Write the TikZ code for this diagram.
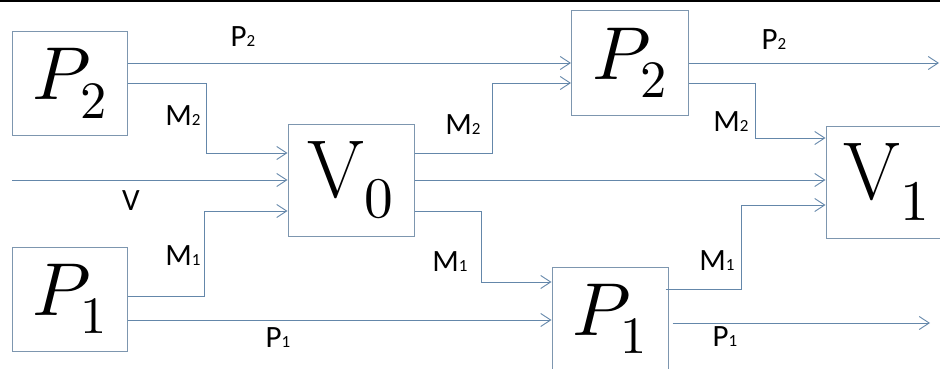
\documentclass[tikz,border=0pt]{standalone}
\usepackage{fontspec}
\usepackage{unicode-math}
\setsansfont{Carlito}
\usetikzlibrary{arrows.meta}
\definecolor{wire}{RGB}{100,135,170}
\definecolor{frame}{RGB}{125,150,175}
\newcommand{\subnum}[1]{{\fontsize{17}{17}\selectfont #1}}

\begin{document}
\begin{tikzpicture}[x=1pt, y=-1pt, >={Straight Barb[length=10pt,width=13pt]},
  blk/.style={draw=frame, line width=1pt, fill=white, inner sep=0pt},
  pbox/.style={blk, font=\fontsize{75}{75}\selectfont},
  vbox/.style={blk, font=\fontsize{82}{82}\selectfont},
  flow/.style={->, draw=wire, line width=0.9pt},
  lbl/.style={font=\sffamily\fontsize{31}{31}\selectfont, inner sep=0pt}]
  \useasboundingbox (0,0) rectangle (940,369);
  \clip (0,0) rectangle (940,369);
  \draw[line width=1.5pt] (0,1) -- (940,1);
  % boxes
  \node[pbox, minimum width=115pt, minimum height=103pt] (p2a) at (69.5,83.5) {$P_2$};
  \node[pbox, minimum width=115pt, minimum height=104pt] (p1a) at (69.5,299) {$P_1$};
  \node[vbox, minimum width=126pt, minimum height=112pt] (v0) at (351,180) {$\mathrm{V}_0$};
  \node[pbox, minimum width=117pt, minimum height=104pt] (p2b) at (630,63) {$P_2$};
  \node[pbox, minimum width=116pt, minimum height=104pt] (p1b) at (610,319) {$P_1$};
  \node[vbox, minimum width=122pt, minimum height=112pt] (v1) at (887,182) {$\mathrm{V}_1$};
  \coordinate (vin) at (12,180);
  \coordinate (p2out) at (939,63);
  \coordinate (p1out) at (930,323);
  % first stage
  \draw[flow] (p2a.east |- p2b.west) -- (p2b.west);
  \draw[flow] (p2a.east) -| ([xshift=-81pt,yshift=27pt]v0.west) -- ([yshift=27pt]v0.west);
  \draw[flow] (vin) -- (v0.west);
  \draw[flow] ([yshift=3pt]p1a.east) -| ([xshift=-83pt,yshift=-31pt]v0.west) -- ([yshift=-31pt]v0.west);
  \draw[flow] ([yshift=-21pt]p1a.east) -- ([yshift=-21pt]p1a.east -| p1b.west);
  % second stage
  \draw[flow] ([yshift=27pt]v0.east) -| ([xshift=-79pt,yshift=-20pt]p2b.west) -- ([yshift=-20pt]p2b.west);
  \draw[flow] (v0.east) -- (v0.east -| v1.west);
  \draw[flow] ([yshift=-31pt]v0.east) -| ([xshift=-70pt,yshift=37pt]p1b.west) -- ([yshift=37pt]p1b.west);
  % outputs
  \draw[flow] (p2b.east) -- (p2out);
  \draw[flow] ([yshift=-20pt]p2b.east) -| ([xshift=-70pt,yshift=44pt]v1.west) -- ([yshift=44pt]v1.west);
  \draw[flow] ([xshift=-3pt,yshift=30pt]p1b.east) -| ([xshift=-84pt,yshift=-23pt]v1.west) -- ([yshift=-23pt]v1.west);
  \draw[flow, shorten <=4pt] ([yshift=-4pt]p1b.east) -- (p1out);
  % labels
  \node[lbl] (lp2a) at (243,37) {P\subnum{2}};
  \node[lbl] (lm2a) at (183,116) {M\subnum{2}};
  \node[lbl] (lv) at (131,201) {V};
  \node[lbl] (lm1a) at (183,256) {M\subnum{1}};
  \node[lbl] (lp1a) at (278,338) {P\subnum{1}};
  \node[lbl] (lm2b) at (463,125) {M\subnum{2}};
  \node[lbl] (lm1b) at (450,262) {M\subnum{1}};
  \node[lbl] (lp2b) at (774,40) {P\subnum{2}};
  \node[lbl] (lm2c) at (731,122) {M\subnum{2}};
  \node[lbl] (lm1c) at (717,261) {M\subnum{1}};
  \node[lbl] (lp1b) at (725,337) {P\subnum{1}};
\end{tikzpicture}
\end{document}
